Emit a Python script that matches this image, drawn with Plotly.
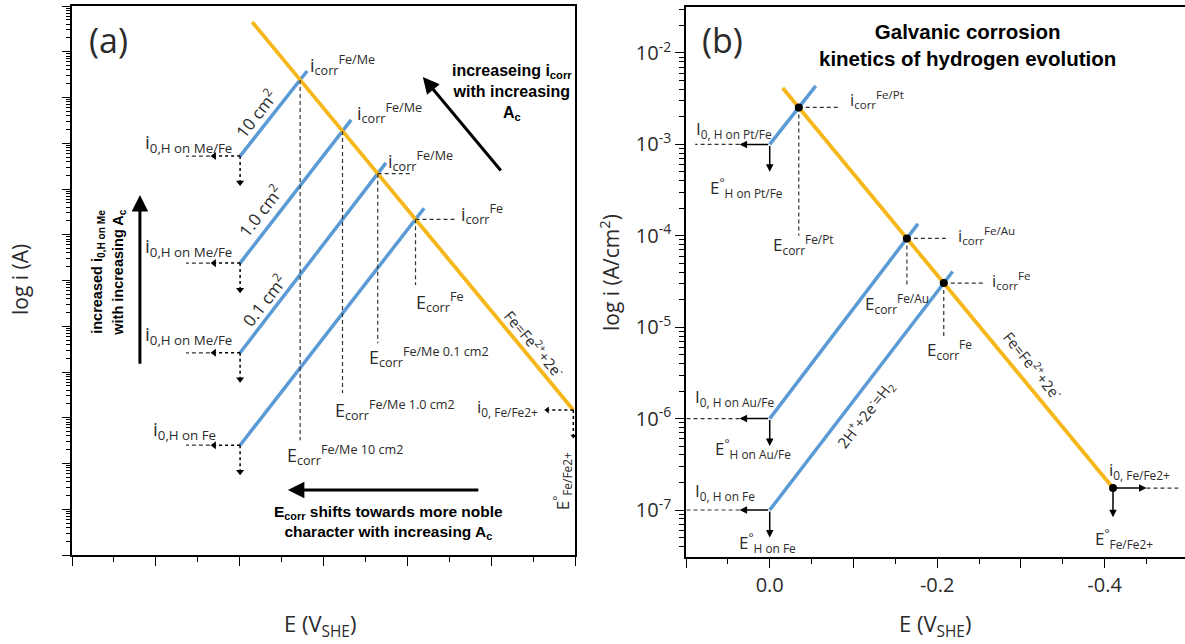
import plotly.graph_objects as go

# ---------------- DATA ----------------
# Panel (a): schematic, arbitrary potential units (0..12) and log10 current (0..12 decades)
a_area_labels = ["10 cm<sup>2</sup>", "1.0 cm<sup>2</sup>", "0.1 cm<sup>2</sup>", ""]
a_i0_labels = ["i<sub>0,H on Me/Fe</sub>", "i<sub>0,H on Me/Fe</sub>", "i<sub>0,H on Me/Fe</sub>", "i<sub>0,H on Fe</sub>"]
a_icorr_labels = ["i<sub>corr</sub><sup>Fe/Me</sup>", "i<sub>corr</sub><sup>Fe/Me</sup>", "i<sub>corr</sub><sup>Fe/Me</sup>", "i<sub>corr</sub><sup>Fe</sup>"]
a_ecorr_labels = ["E<sub>corr</sub><sup>Fe/Me 10 cm2</sup>", "E<sub>corr</sub><sup>Fe/Me 1.0 cm2</sup>",
                  "E<sub>corr</sub><sup>Fe/Me 0.1 cm2</sup>", "E<sub>corr</sub><sup>Fe</sup>"]
a_H_E_start = [4.01, 4.01, 4.01, 4.01]
a_H_logi_start = [8.72, 6.38, 4.42, 2.40]
a_H_E_end = [5.61, 6.66, 7.49, 8.40]
a_H_logi_end = [10.58, 9.51, 8.57, 7.58]
a_Fe_E = [4.30, 11.96]
a_Fe_logi = [11.65, 3.17]

# Panel (b): E in V_SHE, log10 i in A/cm2
b_H_names = ["Pt/Fe", "Au/Fe", "Fe"]
b_H_E_start = [0.0, 0.0, 0.0]
b_H_logi_start = [-3.0, -6.0, -7.0]
b_H_E_end = [-0.055, -0.177, -0.2185]
b_H_logi_end = [-2.36, -3.87, -4.39]
b_Fe_E = [-0.0155, -0.41]
b_Fe_logi = [-2.383, -6.76]
b_ytick_exp = [-7, -6, -5, -4, -3, -2]
b_xtick_vals = [0.1, 0.0, -0.1, -0.2, -0.3, -0.4]
b_xtick_text = ["", "0.0", "", "-0.2", "", "-0.4"]

# ---------------- STYLE ----------------
W, H = 1185, 644
BLUE = "#5B9BD5"
ORANGE = "#F5B71A"
TXT = "#2b2b2b"
FONT = "Open Sans"
BOLD = "Liberation Sans"

fig = go.Figure()
AX = {"a": ("x", "y"), "b": ("x2", "y2")}


def line(p, xs, ylog, color="black", width=1.2, dash=None):
    xa, ya = AX[p]
    fig.add_trace(go.Scatter(x=xs, y=[10 ** v for v in ylog], xaxis=xa, yaxis=ya, mode="lines",
                             line=dict(color=color, width=width, dash=dash), hoverinfo="skip"))


def marker(p, x, ylog, symbol, size=7, color="black"):
    xa, ya = AX[p]
    fig.add_trace(go.Scatter(x=[x], y=[10 ** ylog], xaxis=xa, yaxis=ya, mode="markers",
                             marker=dict(symbol=symbol, size=size, color=color, line=dict(width=0)),
                             hoverinfo="skip"))


ann = []


def text(p, s, x, y, size=18, xanchor="center", yanchor="middle", angle=0, family=FONT, color=TXT, bold=False):
    xa, ya = AX[p]
    if bold:
        s = "<b>" + s + "</b>"
    ann.append(dict(text=s, x=x, y=y, xref=xa, yref=ya, showarrow=False, xanchor=xanchor,
                    yanchor=yanchor, textangle=angle, font=dict(family=family, size=size, color=color)))


def arrow(p, x0, y0, x1, y1, width=1.5, head=2, size=1.0):
    xa, ya = AX[p]
    ann.append(dict(text="", x=x1, y=y1, ax=x0, ay=y0, xref=xa, yref=ya, axref=xa, ayref=ya,
                    showarrow=True, arrowhead=head, arrowsize=size, arrowwidth=width,
                    arrowcolor="black", standoff=0, startstandoff=0))


def intersect(x1, y1, x2, y2, x3, y3, x4, y4):
    s1 = (y2 - y1) / (x2 - x1)
    s2 = (y4 - y3) / (x4 - x3)
    x = (y3 - y1 + s1 * x1 - s2 * x3) / (s1 - s2)
    return x, y1 + s1 * (x - x1)


DASH = "4px,3px"

# ---------------- PANEL (a) ----------------
a_drop_end = [2.51, 3.54, 4.63, 5.90]
a_icorr_pos = [(5.64, 10.71), (6.75, 9.66), (7.49, 8.62), (9.24, 7.45)]
a_ecorr_pos = [(5.08, 2.19), (6.23, 3.17), (7.04, 4.33), (8.17, 5.53)]
a_i0_pos = [(3.86, 9.00), (3.86, 6.73), (3.86, 4.81), (3.48, 2.73)]
a_area_pos = [(4.37, 9.66), (4.48, 7.54), (4.56, 5.57)]
a_hdash = [0, 0, 0.80, 0.93]

for k in range(4):
    line("a", [a_H_E_start[k], a_H_E_end[k]], [a_H_logi_start[k], a_H_logi_end[k]], BLUE, 3.5)
line("a", a_Fe_E, a_Fe_logi, ORANGE, 3.8)

for k in range(4):
    xe, ye = intersect(a_H_E_start[k], a_H_logi_start[k], a_H_E_end[k], a_H_logi_end[k],
                       a_Fe_E[0], a_Fe_logi[0], a_Fe_E[1], a_Fe_logi[1])
    line("a", [xe, xe], [ye, a_drop_end[k]], "#333", 1.2, DASH)
    if a_hdash[k]:
        line("a", [xe, xe + a_hdash[k]], [ye, ye], "#333", 1.2, DASH)
    text("a", a_icorr_labels[k], *a_icorr_pos[k], xanchor="left")
    text("a", a_ecorr_labels[k], *a_ecorr_pos[k], xanchor="left")
    # exchange current density arrows
    x0, y0 = a_H_E_start[k], a_H_logi_start[k]
    line("a", [x0, x0 - 0.62], [y0, y0], "black", 1.5, "dot")
    marker("a", x0 - 0.62, y0, "triangle-left", 7)
    line("a", [x0 - 0.72, x0 - 1.29], [y0, y0], "#333", 1.2, DASH)
    line("a", [x0, x0], [y0, y0 - 0.55], "black", 1.5, "dot")
    marker("a", x0, y0 - 0.58, "triangle-down", 7)
    text("a", a_i0_labels[k], *a_i0_pos[k], xanchor="right", size=19)
    if a_area_labels[k]:
        text("a", a_area_labels[k], *a_area_pos[k], angle=-52, size=17)

# Fe end of panel (a)
xf, yf = a_Fe_E[1], a_Fe_logi[1]
line("a", [xf, xf - 0.62], [yf, yf], "black", 1.5, "dot")
marker("a", xf - 0.62, yf, "triangle-left", 6)
line("a", [xf, xf], [yf, yf - 0.55], "black", 1.5, "dot")
marker("a", xf, yf - 0.57, "triangle-down", 5)
text("a", "i<sub>0, Fe/Fe2+</sub>", 11.17, 3.22, xanchor="right", size=17)
text("a", "E<sup>°</sup><sub>Fe/Fe2+</sub>", 11.70, 1.62, angle=-90, size=17)
text("a", "Fe=Fe<sup>2+</sup>+2e<sup>-</sup>", 11.04, 4.63, angle=50, size=15)

text("a", "(a)", 0.86, 11.26, size=34)
arrow("a", 1.62, 4.15, 1.62, 7.87, width=3, head=2, size=1.1)
text("a", "increased i<sub>0,H on Me</sub>", 0.62, 6.19, size=14.5, angle=-90, family=BOLD, color="black", bold=True)
text("a", "with increasing A<sub>c</sub>", 1.12, 6.19, size=14.5, angle=-90, family=BOLD, color="black", bold=True)
arrow("a", 10.26, 8.37, 8.37, 10.45, width=3, head=2, size=1.1)
text("a", "increaseing i<sub>corr</sub><br>with increasing<br>A<sub>c</sub>", 10.5, 10.1,
     size=16, family=BOLD, color="black", bold=True)
arrow("a", 9.73, 1.42, 5.15, 1.42, width=3, head=2, size=1.1)
text("a", "E<sub>corr</sub> shifts towards more noble<br>character with increasing A<sub>c</sub>",
     7.56, 0.70, size=15.5, family=BOLD, color="black", bold=True)

# ---------------- PANEL (b) ----------------
b_drop_end = [-4.0, -4.56, -5.1]
b_icorr_pos = [(-0.093, -2.51), (-0.222, -4.00), (-0.263, -4.49)]
b_ecorr_pos = [(-0.040, -4.10), (-0.111, -4.74), (-0.186, -5.24)]
b_i0_pos = [(0.091, -2.84), (0.092, -5.77), (0.092, -6.80)]
b_e0_pos = [(0.074, -3.47), (0.068, -6.33), (0.039, -7.36)]
b_dash_left = [0.089, 0.1, 0.1]

for k in range(3):
    line("b", [b_H_E_start[k], b_H_E_end[k]], [b_H_logi_start[k], b_H_logi_end[k]], BLUE, 3.5)
line("b", b_Fe_E, b_Fe_logi, ORANGE, 3.8)

for k in range(3):
    xe, ye = intersect(b_H_E_start[k], b_H_logi_start[k], b_H_E_end[k], b_H_logi_end[k],
                       b_Fe_E[0], b_Fe_logi[0], b_Fe_E[1], b_Fe_logi[1])
    line("b", [xe, xe], [ye, b_drop_end[k]], "#333", 1.2, DASH)
    line("b", [xe, xe - 0.05], [ye, ye], "#333", 1.2, DASH)
    marker("b", xe, ye, "circle", 8)
    sup = "Fe" if b_H_names[k] == "Fe" else "Fe/" + b_H_names[k].split("/")[0]
    text("b", "i<sub>corr</sub><sup>%s</sup>" % sup, *b_icorr_pos[k], xanchor="left", size=16.5)
    ex, ey = b_ecorr_pos[k]
    text("b", "E<sub>corr</sub><sup>%s</sup>" % sup, ex, ey, xanchor="center" if k == 0 else "left", size=17)
    x0, y0 = b_H_E_start[k], b_H_logi_start[k]
    arrow("b", x0, y0, x0 + 0.036, y0, width=1.5, head=2, size=1.0)
    line("b", [x0 + 0.036, b_dash_left[k]], [y0, y0], "#333", 1.2, DASH)
    arrow("b", x0, y0, x0, y0 - 0.30, width=1.5, head=2, size=1.0)
    text("b", "I<sub>0, H on %s</sub>" % b_H_names[k], *b_i0_pos[k], xanchor="left", size=17)
    text("b", "E<sup>°</sup><sub>H on %s</sub>" % b_H_names[k], *b_e0_pos[k], xanchor="left", size=17)

xf, yf = b_Fe_E[1], b_Fe_logi[1]
marker("b", xf, yf, "circle", 8)
arrow("b", xf, yf, xf - 0.04, yf, width=1.5, head=2, size=1.0)
line("b", [xf - 0.04, xf - 0.078], [yf, yf], "#333", 1.2, DASH)
arrow("b", xf, yf, xf, yf - 0.32, width=1.5, head=2, size=1.0)
text("b", "i<sub>0, Fe/Fe2+</sub>", -0.403, -6.57, xanchor="left", size=17)
text("b", "E<sup>°</sup><sub>Fe/Fe2+</sub>", -0.386, -7.31, xanchor="left", size=17)
text("b", "Fe=Fe<sup>2+</sup>+2e<sup>-</sup>", -0.315, -5.42, angle=51, size=15)
text("b", "2H<sup>+</sup>+2e<sup>-</sup>=H<sub>2</sub>", -0.114, -5.95, angle=-52, size=15)
text("b", "(b)", 0.057, -1.86, size=34)


# titles (paper coordinates)
def ptext(s, px, py, size=21, angle=0, family=FONT, color=TXT):
    ann.append(dict(text=s, x=px / W, y=1 - py / H, xref="paper", yref="paper", showarrow=False,
                    xanchor="center", yanchor="middle",
                    textangle=angle, font=dict(family=family, size=size, color=color)))


ptext("<b>Galvanic corrosion<br>kinetics of hydrogen evolution</b>", 968, 45, size=20.5, family=BOLD, color="black")
ptext("E (V<sub>SHE</sub>)", 320, 625, size=22)
ptext("E (V<sub>SHE</sub>)", 935, 625, size=22)
ptext("log i (A)", 20, 280, angle=-90, size=21)
ptext("log i (A/cm<sup>2</sup>)", 609, 273, angle=-90, size=21)

# ---------------- AXES ----------------
common = dict(showline=True, linecolor="black", linewidth=1.5, ticks="outside", tickcolor="black",
              tickwidth=1.3, showgrid=False, zeroline=False)

fig.update_layout(
    width=W, height=H, margin=dict(l=0, r=0, t=0, b=0), showlegend=False,
    paper_bgcolor="white", plot_bgcolor="white",
    xaxis=dict(domain=[72 / W, 575 / W], range=[0, 12], mirror=True, tickmode="array",
               tickvals=list(range(0, 13, 2)), ticklen=9, showticklabels=False, anchor="y",
               minor=dict(tickmode="array", tickvals=list(range(1, 12, 2)), ticks="outside",
                          ticklen=5, tickwidth=1.3, tickcolor="black", showgrid=False), **common),
    yaxis=dict(domain=[(H - 555) / H, (H - 6) / H], type="log", range=[0, 12], mirror=True,
               tickmode="array", tickvals=[10 ** n for n in range(13)], ticklen=8,
               showticklabels=False, anchor="x",
               minor=dict(tickmode="array", tickvals=[m * 10 ** n for n in range(12) for m in range(2, 10)],
                          ticks="outside", ticklen=4, tickwidth=1.2, tickcolor="black", showgrid=False),
               **common),
    xaxis2=dict(domain=[686 / W, 1.0], range=[0.1, -0.496], mirror=True, tickmode="array",
                tickvals=b_xtick_vals, ticktext=b_xtick_text, ticklen=9, anchor="y2",
                tickfont=dict(family=FONT, size=20, color=TXT),
                minor=dict(tickmode="array", tickvals=[0.05, -0.05, -0.15, -0.25, -0.35, -0.45],
                           ticks="outside", ticklen=5, tickwidth=1.3, tickcolor="black", showgrid=False),
                **common),
    yaxis2=dict(domain=[(H - 557) / H, (H - 7) / H], type="log", range=[-7.514, -1.497], mirror=False,
                tickmode="array", tickvals=[10.0 ** e for e in b_ytick_exp],
                ticktext=["10<sup>%d</sup>" % e for e in b_ytick_exp], ticklen=9, anchor="x2",
                tickfont=dict(family=FONT, size=20, color=TXT),
                minor=dict(tickmode="array",
                           tickvals=[m * 10.0 ** n for n in range(-8, -1) for m in range(2, 10)],
                           ticks="outside", ticklen=5, tickwidth=1.2, tickcolor="black", showgrid=False),
                **common),
    annotations=ann,
)

fig.write_html("out.html")
